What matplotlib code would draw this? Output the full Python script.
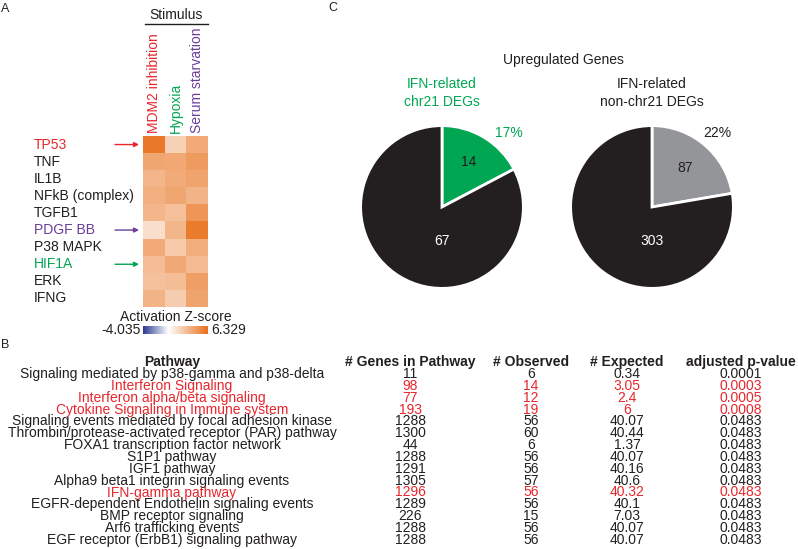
import numpy as np
import matplotlib
matplotlib.use('Agg')
import matplotlib.pyplot as plt
from matplotlib.colors import LinearSegmentedColormap, Normalize
from matplotlib.cm import ScalarMappable

plt.rcParams['font.family'] = ['Liberation Sans', 'DejaVu Sans']

RED = '#e8262c'
GREEN = '#00a651'
PURPLE = '#6a3d9a'
BLACK = '#231f20'
GREY = '#939598'

# --- panel A data ---
stimuli = ['MDM2 inhibition', 'Hypoxia', 'Serum starvation']
stim_colors = [RED, GREEN, PURPLE]
regulators = ['TP53', 'TNF', 'IL1B', 'NFkB (complex)', 'TGFB1', 'PDGF BB',
              'P38 MAPK', 'HIF1A', 'ERK', 'IFNG']
reg_colors = [RED, BLACK, BLACK, BLACK, BLACK, PURPLE, BLACK, GREEN, BLACK, BLACK]
zscores = np.array([
    [5.9, 2.0, 3.7],
    [3.9, 3.8, 4.4],
    [3.2, 3.7, 4.0],
    [3.5, 3.9, 3.3],
    [3.2, 2.8, 4.6],
    [1.4, 3.2, 5.8],
    [3.7, 2.3, 3.6],
    [2.9, 3.8, 3.0],
    [2.7, 2.9, 4.2],
    [3.3, 2.2, 4.0],
])
zmin, zmax = -4.035, 6.329

# --- panel C data ---
pie_titles = ['IFN-related\nchr21 DEGs', 'IFN-related\nnon-chr21 DEGs']
pie_title_colors = [GREEN, BLACK]
pie_counts = [[14, 67], [87, 303]]
pie_colors = [[GREEN, BLACK], [GREY, BLACK]]

# --- panel B data ---
pathways = ['Signaling mediated by p38-gamma and p38-delta', 'Interferon Signaling',
            'Interferon alpha/beta signaling', 'Cytokine Signaling in Immune system',
            'Signaling events mediated by focal adhesion kinase',
            'Thrombin/protease-activated receptor (PAR) pathway',
            'FOXA1 transcription factor network', 'S1P1 pathway', 'IGF1 pathway',
            'Alpha9 beta1 integrin signaling events', 'IFN-gamma pathway',
            'EGFR-dependent Endothelin signaling events', 'BMP receptor signaling',
            'Arf6 trafficking events', 'EGF receptor (ErbB1) signaling pathway']
genes_in_pathway = [11, 98, 77, 193, 1288, 1300, 44, 1288, 1291, 1305, 1296, 1289, 226, 1288, 1288]
observed = [6, 14, 12, 19, 56, 60, 6, 56, 56, 57, 56, 56, 15, 56, 56]
expected = [0.34, 3.05, 2.4, 6, 40.07, 40.44, 1.37, 40.07, 40.16, 40.6, 40.32, 40.1, 7.03, 40.07, 40.07]
adj_p = [0.0001, 0.0003, 0.0005, 0.0008, 0.0483, 0.0483, 0.0483, 0.0483, 0.0483,
         0.0483, 0.0483, 0.0483, 0.0483, 0.0483, 0.0483]
ifn_related = [False, True, True, True, False, False, False, False, False, False,
               True, False, False, False, False]
headers = ['Pathway', '# Genes in Pathway', '# Observed', '# Expected', 'adjusted p-value']

W, H = 798, 549
fig = plt.figure(figsize=(W / 100, H / 100), dpi=100)


def px_axes(x0, y0, x1, y1):
    return fig.add_axes([x0 / W, 1 - y1 / H, (x1 - x0) / W, (y1 - y0) / H])


# overlay in pixel coords for free text
ov = fig.add_axes([0, 0, 1, 1])
ov.set_xlim(0, W)
ov.set_ylim(H, 0)
ov.axis('off')

# ---------------- A: heatmap ----------------
cmap = LinearSegmentedColormap.from_list(
    'act', [(0, '#2b3990'), (-zmin / (zmax - zmin), '#ffffff'), (1, '#e8701a')])
norm = Normalize(zmin, zmax)

hx0, hx1, hy0, hy1 = 143, 208, 136, 307
ax = px_axes(hx0, hy0, hx1, hy1)
ax.imshow(zscores, cmap=cmap, norm=norm, aspect='auto', interpolation='nearest')
ax.set_xticks([])
ax.set_yticks([])
for s in ax.spines.values():
    s.set_visible(False)

rh = (hy1 - hy0) / len(regulators)
cw = (hx1 - hx0) / len(stimuli)
for i, (name, c) in enumerate(zip(regulators, reg_colors)):
    y = hy0 + (i + 0.5) * rh
    ov.text(34, y, name, color=c, fontsize=10, ha='left', va='center')
    if c != BLACK:
        ov.annotate('', xy=(139, y), xytext=(115, y),
                    arrowprops=dict(arrowstyle='-|>', color=c, lw=1,
                                    mutation_scale=7, shrinkA=0, shrinkB=0))
for j, (name, c) in enumerate(zip(stimuli, stim_colors)):
    ov.text(hx0 + (j + 0.5) * cw, 133, name, color=c, fontsize=10,
            rotation=90, ha='center', va='bottom')
ov.text(176, 15, 'Stimulus', fontsize=10, ha='center', va='center', color=BLACK)
ov.plot([145, 208], [24, 24], color=BLACK, lw=1)

ov.text(176, 317, 'Activation Z-score', fontsize=10, ha='center', va='center', color=BLACK)
cax = px_axes(143, 326, 208, 334)
cb = fig.colorbar(ScalarMappable(norm=norm, cmap=cmap), cax=cax, orientation='horizontal')
cb.set_ticks([])
cb.outline.set_visible(False)
ov.text(141, 330, '-4.035', fontsize=10, ha='right', va='center', color=BLACK)
ov.text(211, 330, '6.329', fontsize=10, ha='left', va='center', color=BLACK)

ov.text(5, 9, 'A', fontsize=9, ha='center', va='center', color=BLACK)
ov.text(5, 345, 'B', fontsize=9, ha='center', va='center', color=BLACK)
ov.text(333, 8, 'C', fontsize=9, ha='center', va='center', color=BLACK)

# ---------------- C: pies ----------------
ov.text(563, 60, 'Upregulated Genes', fontsize=10, ha='center', va='center', color=BLACK)
centers = [442, 652]
R = 83
for k in range(2):
    cx, cy = centers[k], 207
    pa = px_axes(cx - R, cy - R, cx + R, cy + R)
    pa.pie(pie_counts[k], colors=pie_colors[k], startangle=90, counterclock=False,
           wedgeprops=dict(edgecolor='white', linewidth=2))
    pa.set_xlim(-1.02, 1.02)
    pa.set_ylim(-1.02, 1.02)
    ov.text(cx, 93, pie_titles[k], fontsize=10, ha='center', va='center',
            color=pie_title_colors[k], linespacing=1.3)
    small, big = pie_counts[k]
    pct = round(100 * small / (small + big))
    pct_color = GREEN if k == 0 else BLACK
    sx = [0.33, 0.41][k]
    sy = [0.55, 0.48][k]
    pa.text(sx, sy, str(small), fontsize=10, ha='center', va='center', color=BLACK)
    pa.text(0, -0.42, str(big), fontsize=10, ha='center', va='center', color='white')
    ov.text(cx + [67, 65][k], 133, f'{pct}%', fontsize=10, ha='center', va='center',
            color=pct_color)

# ---------------- B: table ----------------
col_x = [172, 410, 531, 627, 741]
for x, h in zip(col_x, headers):
    ov.text(x, 362, h, fontsize=10, fontweight='bold', ha='center', va='center', color=BLACK)
for i in range(len(pathways)):
    y = 374 + i * 11.85
    c = RED if ifn_related[i] else BLACK
    cells = [pathways[i], str(genes_in_pathway[i]), str(observed[i]),
             f'{expected[i]:g}', f'{adj_p[i]:g}']
    for x, t in zip(col_x, cells):
        ov.text(x, y, t, fontsize=10, ha='center', va='center', color=c)

fig.savefig('out.png', dpi=100)
